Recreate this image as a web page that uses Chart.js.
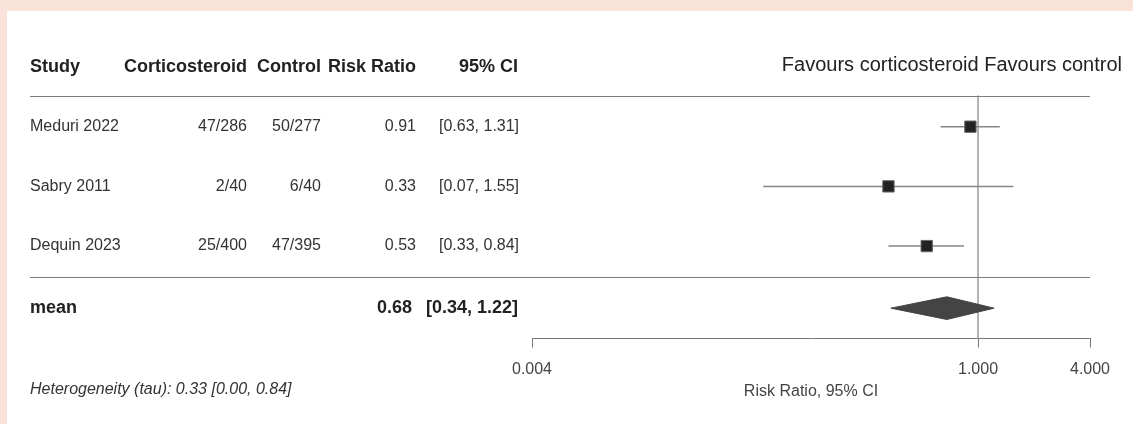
<!DOCTYPE html>
<html>
<head>
<meta charset="utf-8">
<title>Forest plot</title>
<script src="https://cdn.jsdelivr.net/npm/chart.js@4/dist/chart.umd.min.js"></script>
<style>
  html, body { margin: 0; padding: 0; background: #ffffff; }
  .wrap { position: relative; width: 1133px; height: 424px; overflow: hidden; }
  .band-top { position: absolute; left: 0; top: 0; width: 1133px; height: 11px; background: #f9e2d8; }
  .band-left { position: absolute; left: 0; top: 0; width: 7px; height: 424px; background: #f9e2d8; }
  canvas { position: absolute; left: 0; top: 0; }
</style>
</head>
<body>
<div class="wrap">
  <canvas id="forest" width="1133" height="424"></canvas>
  <div class="band-top"></div>
  <div class="band-left"></div>
</div>
<script>
// ---- study data ----
const studies = ["Meduri 2022", "Sabry 2011", "Dequin 2023"];
const steroidEvents = [47, 2, 25];
const steroidTotals = [286, 40, 400];
const controlEvents = [50, 6, 47];
const controlTotals = [277, 40, 395];
const riskRatio = [0.91, 0.33, 0.53];
const ciLower = [0.63, 0.07, 0.33];
const ciUpper = [1.31, 1.55, 0.84];

// pooled estimate: [mean, lower, upper]
const pooled = [0.68, 0.34, 1.22];
// heterogeneity tau: [estimate, lower, upper]
const tau = [0.33, 0.00, 0.84];

const axisTicks = [0.004, 1, 4];

// ---- row layout (y units, top to bottom) ----
const rows = studies.map((s, i) => i + 1);
const MEAN_ROW = 4.04;
const RULES = [0.48, 3.52];
const Y_MAX = 4.55;
const DIAMOND_HALF = 0.19;

const FONT = "'Liberation Sans', Arial, sans-serif";

// CI whiskers, one small line per study
const ciSets = studies.map((s, i) => ({
  type: "line",
  data: [{ x: ciLower[i], y: rows[i] }, { x: ciUpper[i], y: rows[i] }],
  borderColor: "#858585",
  borderWidth: 1.5,
  pointRadius: 0,
  fill: false,
  order: 2
}));

// summary diamond
const diamond = {
  type: "line",
  data: [
    { x: pooled[1], y: MEAN_ROW },
    { x: pooled[0], y: MEAN_ROW - DIAMOND_HALF },
    { x: pooled[2], y: MEAN_ROW },
    { x: pooled[0], y: MEAN_ROW + DIAMOND_HALF },
    { x: pooled[1], y: MEAN_ROW }
  ],
  borderColor: "#444444",
  borderWidth: 1,
  backgroundColor: "#444444",
  pointRadius: 0,
  tension: 0,
  fill: "shape",
  order: 1
};

// line of no effect
const refLine = {
  type: "line",
  data: [{ x: 1, y: RULES[0] }, { x: 1, y: Y_MAX }],
  borderColor: "#a8a8a8",
  borderWidth: 1,
  pointRadius: 0,
  fill: false,
  order: 4
};

const squares = {
  type: "scatter",
  data: studies.map((s, i) => ({ x: riskRatio[i], y: rows[i] })),
  pointStyle: "rect",
  pointRadius: 8,
  backgroundColor: "#222222",
  borderColor: "#666666",
  borderWidth: 1,
  order: 0
};

// table text, rules and labels around the plot
const forestTable = {
  id: "forestTable",
  afterDraw(chart) {
    const ctx = chart.ctx;
    const y = chart.scales.y;
    const area = chart.chartArea;
    ctx.save();

    ctx.strokeStyle = "#7a7a7a";
    ctx.lineWidth = 1;
    RULES.forEach(v => {
      const py = Math.round(y.getPixelForValue(v)) + 0.5;
      ctx.beginPath();
      ctx.moveTo(30, py);
      ctx.lineTo(area.right, py);
      ctx.stroke();
    });

    const text = (str, x, py, align) => {
      ctx.textAlign = align;
      ctx.fillText(str, x, py);
    };
    ctx.textBaseline = "middle";

    // header
    const hy = y.getPixelForValue(0);
    ctx.fillStyle = "#222222";
    ctx.font = "bold 18px " + FONT;
    text("Study", 30, hy, "left");
    text("Corticosteroid", 247, hy, "right");
    text("Control", 321, hy, "right");
    text("Risk Ratio", 416, hy, "right");
    text("95% CI", 518, hy, "right");

    ctx.font = "20px " + FONT;
    text("Favours corticosteroid Favours control", 1122, hy - 2, "right");

    // study rows
    ctx.fillStyle = "#333333";
    ctx.font = "16px " + FONT;
    studies.forEach((s, i) => {
      const py = y.getPixelForValue(rows[i]);
      text(s, 30, py, "left");
      text(steroidEvents[i] + "/" + steroidTotals[i], 247, py, "right");
      text(controlEvents[i] + "/" + controlTotals[i], 321, py, "right");
      text(riskRatio[i].toFixed(2), 416, py, "right");
      text("[" + ciLower[i].toFixed(2) + ", " + ciUpper[i].toFixed(2) + "]", 439, py, "left");
    });

    // pooled row
    const my = y.getPixelForValue(MEAN_ROW);
    ctx.fillStyle = "#222222";
    ctx.font = "bold 18px " + FONT;
    text("mean", 30, my, "left");
    text(pooled[0].toFixed(2), 412, my, "right");
    text("[" + pooled[1].toFixed(2) + ", " + pooled[2].toFixed(2) + "]", 518, my, "right");

    ctx.fillStyle = "#333333";
    ctx.font = "italic 16px " + FONT;
    text("Heterogeneity (tau): " + tau[0].toFixed(2) + " [" + tau[1].toFixed(2) + ", " + tau[2].toFixed(2) + "]", 30, 390, "left");

    ctx.restore();
  }
};

new Chart(document.getElementById("forest"), {
  data: { datasets: [squares, diamond, ...ciSets, refLine] },
  options: {
    responsive: false,
    animation: false,
    layout: { padding: { left: 532, right: 43, top: 67, bottom: 23 } },
    plugins: {
      legend: { display: false },
      tooltip: { enabled: false }
    },
    scales: {
      x: {
        type: "logarithmic",
        min: axisTicks[0],
        max: axisTicks[axisTicks.length - 1],
        afterBuildTicks: axis => {
          axis.ticks = axisTicks.map(v => ({ value: v }));
        },
        ticks: {
          callback: v => Number(v).toFixed(3),
          color: "#444444",
          font: { family: FONT, size: 16 },
          padding: 12,
          maxRotation: 0,
          autoSkip: false
        },
        grid: {
          drawOnChartArea: false,
          drawTicks: true,
          tickLength: 9,
          tickColor: "#777777"
        },
        border: { display: true, color: "#777777", width: 1 },
        title: {
          display: true,
          text: "Risk Ratio, 95% CI",
          color: "#444444",
          font: { family: FONT, size: 16 },
          padding: { top: -9, bottom: 0 }
        }
      },
      y: {
        type: "linear",
        display: false,
        reverse: true,
        min: 0,
        max: Y_MAX
      }
    }
  },
  plugins: [forestTable]
});
</script>
</body>
</html>
